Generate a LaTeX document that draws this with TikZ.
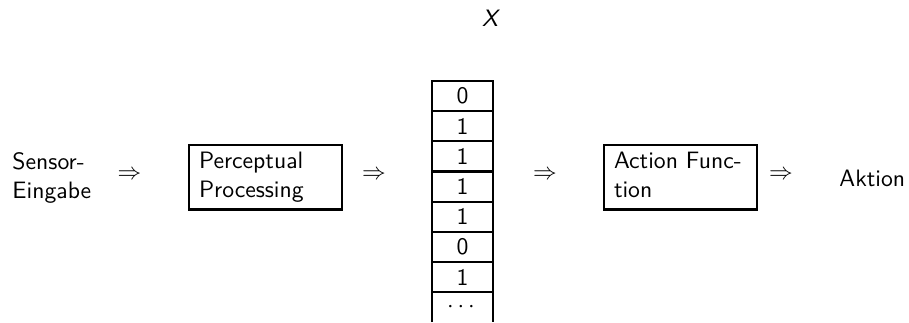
\documentclass[tikz,border=0pt]{standalone}
\begin{document}
\begin{tikzpicture}[x=0.4219pt,y=-0.4219pt,
  every node/.style={inner sep=0pt, font=\sffamily},
  lefttext/.style={align=left, anchor=north west},
  procbox/.style={draw, line width=0.9pt, text width=56pt, align=left,
    inner xsep=4.2pt, inner ysep=1.6pt, anchor=north west},
  implies/.style={font=\normalfont},
  bit/.style={},
  tabline/.style={line width=0.9pt}]
\useasboundingbox (0,0) rectangle (909,322);

% title
\node (x) at (491,18) {\textit{X}};

% input
\node[lefttext] (in) at (12,149.5) {\strut Sensor-\\\strut Eingabe};
\node[implies] (a1) at (129.5,175) {$\Rightarrow$};

% perceptual processing
\node[procbox] (pp) at (188,144) {\strut Perceptual\\\strut Processing};
\node[implies] (a2) at (374,175) {$\Rightarrow$};

% bit vector
\draw[tabline] (432,322) -- (432,81) -- (493,81) -- (493,322);
\foreach \k in {1,...,7}
  \draw[tabline] (432,81+30.15*\k) -- (493,81+30.15*\k);
\foreach \b [count=\i from 0] in {0,1,1,1,1,0,1}
  \node[bit] (b\i) at (462.5,96.1+30.15*\i) {\b};
\node[bit] (bdots) at (461,307) {$\cdots$};

\node[implies] (a3) at (545,175) {$\Rightarrow$};

% action function
\node[procbox] (af) at (603,144) {\strut\makebox[56pt][s]{Action Func-}\\\strut tion};
\node[implies] (a4) at (781,175) {$\Rightarrow$};

% output
\node[anchor=base west] (out) at (839,186) {Aktion};
\end{tikzpicture}
\end{document}
